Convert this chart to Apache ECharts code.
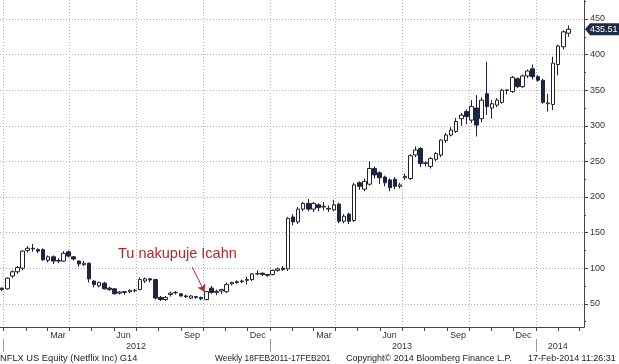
<!DOCTYPE html>
<html><head><meta charset="utf-8">
<script src="https://cdn.jsdelivr.net/npm/echarts@6/dist/echarts.min.js"></script>
<style>html,body{margin:0;padding:0;background:#fff}#c{width:619px;height:364px}</style>
</head><body><div id="c"></div>
<script>
// ---- data (weekly bars, Friday dates) ----
const weekDates = [
'2011-12-30',
'2012-01-06','2012-01-13','2012-01-20','2012-01-27',
'2012-02-03','2012-02-10','2012-02-17','2012-02-24',
'2012-03-02','2012-03-09','2012-03-16','2012-03-23','2012-03-30',
'2012-04-06','2012-04-13','2012-04-20','2012-04-27',
'2012-05-04','2012-05-11','2012-05-18','2012-05-25',
'2012-06-01','2012-06-08','2012-06-15','2012-06-22','2012-06-29',
'2012-07-06','2012-07-13','2012-07-20','2012-07-27',
'2012-08-03','2012-08-10','2012-08-17','2012-08-24','2012-08-31',
'2012-09-07','2012-09-14','2012-09-21','2012-09-28',
'2012-10-05','2012-10-12','2012-10-19','2012-10-26',
'2012-11-02','2012-11-09','2012-11-16','2012-11-23','2012-11-30',
'2012-12-07','2012-12-14','2012-12-21','2012-12-28',
'2013-01-04','2013-01-11','2013-01-18','2013-01-25',
'2013-02-01','2013-02-08','2013-02-15','2013-02-22',
'2013-03-01','2013-03-08','2013-03-15','2013-03-22','2013-03-29',
'2013-04-05','2013-04-12','2013-04-19','2013-04-26',
'2013-05-03','2013-05-10','2013-05-17','2013-05-24','2013-05-31',
'2013-06-07','2013-06-14','2013-06-21','2013-06-28',
'2013-07-05','2013-07-12','2013-07-19','2013-07-26',
'2013-08-02','2013-08-09','2013-08-16','2013-08-23','2013-08-30',
'2013-09-06','2013-09-13','2013-09-20','2013-09-27',
'2013-10-04','2013-10-11','2013-10-18','2013-10-25',
'2013-11-01','2013-11-08','2013-11-15','2013-11-22','2013-11-29',
'2013-12-06','2013-12-13','2013-12-20','2013-12-27',
'2014-01-03','2014-01-10','2014-01-17','2014-01-24','2014-01-31',
'2014-02-07','2014-02-14'
];
const opens = [72,
71,89,95,100, 125,128,126,126, 111,116,111,110,123, 116,110,105,107,
82,75,79,72, 71,65,67,67,69, 70,82,85,84, 59,56,63,66,64,
61,58,60,59, 56,72,66,68, 67,78,80,81,83, 84,92,93,91,
91,97,100,99, 172,165,183,191, 183,189,186,184,182, 190,166,176,167,
220,211,218,240,234, 228,224,225,215, 227,226,259,268,
247,243,253,259,279, 287,292,310,320, 308,325,310,345,
325,329,333,349.5,348, 366,355,370,380, 369,364,331,330,386, 411,430];
const closes = [70,
86,95,101,124, 128,127,124,112, 116,110,110,121,117, 113,106,107,85,
77,80,71,70, 64,66.5,66,69,68.5, 84,85,83.5,58, 56,59,65,65.5,61,
60,61,59,57, 67,66,67.5,70, 77,80,81,82,84, 92,92.5,91,90,
97,99,98,170, 165,183,191,183, 191,185,187,183,189, 166,173,166,217,
215,222,240,231,227, 220,213,215,217, 229,258,266,247,
248,254,261,280,287, 294,306,315,313, 327,301,336,327,
331,336,350,350.5,368, 355,370,377,369, 364,333,332,388,412, 432,435.51];
const lows = [68,
70,86,92,97, 122,123,121,110, 108,106,107,109,115, 111,102,103,80,
73,73,70,68, 63,63,63,65,66, 69,79,80,56, 54,54,60,63,60,
58,57,57,55, 55,64,62,64, 65,76,78,79,77, 82,90,89,88,
90,95,96,96, 160,162,180,180, 179,180,181,179,180, 163,163,162,165,
210,208,216,226,218, 215,208,211,212, 224,224,256,242,
243,240,250,256,276, 285,290,300,302, 304,285,305,315,
310,326,331,344,346, 353,353,367,365, 362,331,320,322,371, 407,425];
const highs = [73,
87,97,103,125, 131,134,128,128, 118,118,114,124,125, 117,111,110,108,
83,81,81,74, 72,68,68,70,71, 87,87,86,85, 61,61,67,68,65,
63,62,61,60, 68,75,70,71, 80,81,83,84,88, 93,97,94,92,
98,101,103,172, 176,186,193,197, 193,191,193,188,196, 192,176,178,220,
222,226,250,243,236, 230,226,228,220, 233,260,271,270,
250,256,263,281,290, 298,311,318,323, 336,343,340,390,
336,339,352,351,370, 368,372,379,386, 371,366,345,397,414, 434,441];
const lastPrice = 435.51;

// ---- axis labels / ticks ----
const yTickValues = [50,100,150,200,250,300,350,400,450];
const yMinorTickValues = [25,75,125,175,225,275,325,375,425,475];
const monthLabelDates = ['2012-03-16','2012-06-14','2012-09-16','2012-12-15','2013-03-16','2013-06-14','2013-09-16','2013-12-15'];
const monthLabels = ['Mar','Jun','Sep','Dec','Mar','Jun','Sep','Dec'];
const quarterDates = ['2012-01-01','2012-04-01','2012-07-01','2012-10-01','2013-01-01','2013-04-01','2013-07-01','2013-10-01','2014-01-01'];
const yearLabelDates = ['2012-07-01','2013-07-01','2014-01-31'];
const yearLabels = ['2012','2013','2014'];
const yearSepDates = ['2012-01-01','2013-01-01','2014-01-01'];

function toTs(s, h) {
  const p = s.split('-').map(Number);
  return Date.UTC(p[0], p[1] - 1, p[2], h || 0);
}
const monthTickTs = [];
for (let y = 2012; y <= 2014; y++) for (let m = 0; m < 12; m++) {
  if (y === 2014 && m > 2) break;
  monthTickTs.push(Date.UTC(y, m, 1));
}
const xMin = Date.UTC(2011, 11, 27, 10);
const xMax = Date.UTC(2014, 2, 7, 22);
const yMin = 17.4, yMax = 476.7;

function lookup(dates, labels) {
  const ts = dates.map(d => toTs(d));
  return function (v) {
    let best = 0, bd = Infinity;
    ts.forEach((t, i) => { const d = Math.abs(t - v); if (d < bd) { bd = d; best = i; } });
    return labels[best];
  };
}

const candleData = weekDates.map((d, i) => [toTs(d, 12), opens[i], closes[i], lows[i], highs[i]]);

const FONT = '"Liberation Sans", Arial, sans-serif';
const axisColor = '#444';
const gridLine = { show: true, lineStyle: { color: '#b0b0b0', width: 1, type: [1, 2] } };

const chart = echarts.init(document.getElementById('c'), null, { renderer: 'canvas' });
chart.setOption({
  animation: false,
  backgroundColor: '#fff',
  textStyle: { fontFamily: FONT },
  grid: { left: 0, right: 35, top: 0, bottom: 37, containLabel: false, outerBoundsMode: 'none' },
  xAxis: [
    {
      type: 'value', min: xMin, max: xMax, position: 'bottom', scale: true,
      axisLine: { show: true, onZero: false, lineStyle: { color: axisColor, width: 1 } },
      axisTick: { show: true, customValues: monthTickTs, length: 4, lineStyle: { color: axisColor } },
      axisLabel: { show: true, customValues: monthLabelDates.map(d => toTs(d)), formatter: lookup(monthLabelDates, monthLabels),
        fontSize: 9, color: '#333', margin: 4, fontFamily: FONT, hideOverlap: false },
      splitLine: { show: false }
    },
    {
      type: 'value', min: xMin, max: xMax, position: 'bottom', scale: true,
      axisLine: { show: false, onZero: false },
      axisTick: { show: false, customValues: quarterDates.map(d => toTs(d)) },
      axisLabel: { show: false },
      splitLine: gridLine
    },
    {
      type: 'value', min: xMin, max: xMax, position: 'bottom', offset: 12, scale: true,
      axisLine: { show: false, onZero: false },
      axisTick: { show: true, customValues: yearSepDates.map(d => toTs(d)), length: 13, lineStyle: { color: '#999' } },
      axisLabel: { show: true, customValues: yearLabelDates.map(d => toTs(d)), formatter: lookup(yearLabelDates, yearLabels),
        fontSize: 9, color: '#333', margin: 3, fontFamily: FONT, hideOverlap: false },
      splitLine: { show: false }
    }
  ],
  yAxis: [
    {
      type: 'value', min: yMin, max: yMax, position: 'right',
      axisLine: { show: true, onZero: false, lineStyle: { color: axisColor, width: 1 } },
      axisTick: { show: true, customValues: yTickValues, length: 4, lineStyle: { color: axisColor } },
      axisLabel: { show: true, customValues: yTickValues, fontSize: 9, color: '#333', margin: 6, fontFamily: FONT },
      splitLine: gridLine
    },
    {
      type: 'value', min: yMin, max: yMax, position: 'right',
      axisLine: { show: false, onZero: false },
      axisTick: { show: true, customValues: yMinorTickValues, length: 2, lineStyle: { color: axisColor } },
      axisLabel: { show: false },
      splitLine: { show: false }
    }
  ],
  series: [{
    type: 'candlestick',
    xAxisIndex: 0, yAxisIndex: 0,
    data: candleData,
    barWidth: 4,
    itemStyle: { color: '#ffffff', color0: '#1b2440', borderColor: '#222', borderColor0: '#1b2440', borderWidth: 1 },
    markLine: {
      silent: true, animation: false,
      symbol: ['none', 'arrow'], symbolSize: 7,
      lineStyle: { color: '#b3262c', width: 1, type: 'solid' },
      label: { show: false },
      data: [[{ coord: [toTs('2012-09-16'), 102] }, { coord: [toTs('2012-10-03'), 67] }]]
    }
  }]
});

const py = chart.convertToPixel({ yAxisIndex: 0 }, lastPrice);
const footY = 358;
const ft = (x, text, sx) => ({ type: 'text', x: x, y: footY, silent: true, scaleX: sx || 1,
  style: { text: text, fontSize: 9.3, fontFamily: FONT, fill: '#222', verticalAlign: 'middle' } });
chart.setOption({
  graphic: [
    { type: 'text', x: 118, y: 254, silent: true,
      style: { text: 'Tu nakupuje Icahn', fontSize: 14.5, fontFamily: FONT, fill: '#b3262c', verticalAlign: 'middle' } },
    ft(0, 'NFLX US Equity (Netflix Inc) G14'),
    ft(215, 'Weekly 18FEB2011-17FEB201', 0.9),
    ft(346, 'Copyright\u00a9 2014 Bloomberg Finance L.P.', 0.97),
    ft(528, '17-Feb-2014 11:26:31', 0.96),
    { type: 'polygon', silent: true,
      shape: { points: [[585, py], [590, py - 6], [619, py - 6], [619, py + 6], [590, py + 6]] },
      style: { fill: '#1e2b48' } },
    { type: 'text', x: 590, y: py, silent: true,
      style: { text: lastPrice.toFixed(2), fontSize: 9, fontFamily: FONT, fill: '#fff', verticalAlign: 'middle' } }
  ]
});
</script>
</body></html>
